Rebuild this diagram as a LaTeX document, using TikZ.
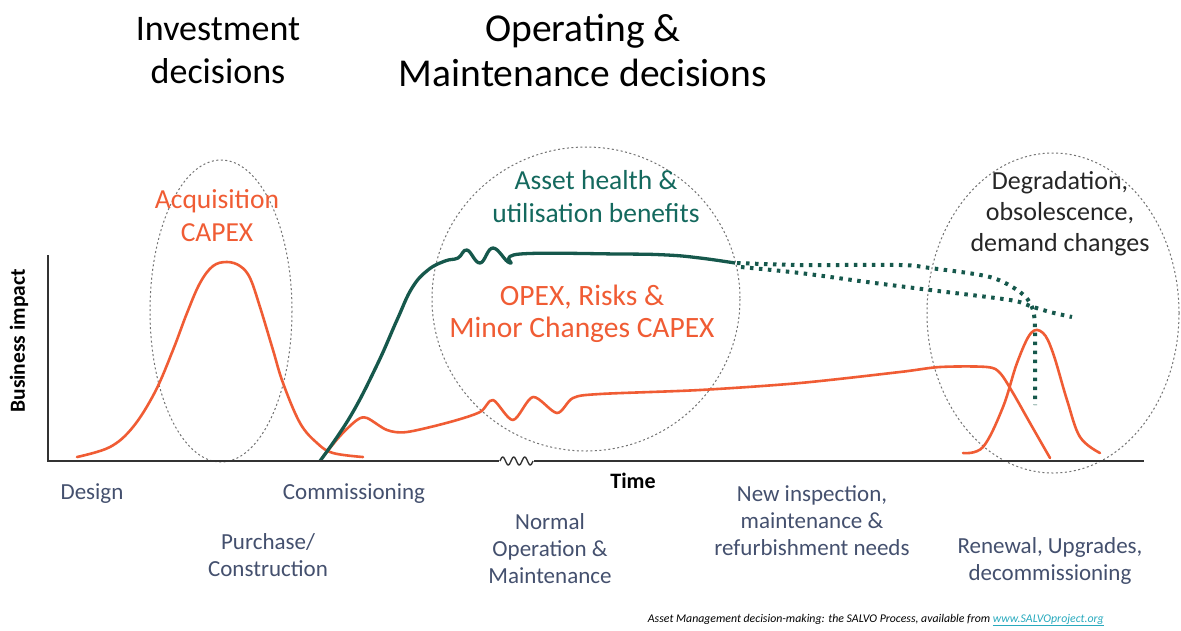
\documentclass[tikz,border=0pt]{standalone}
\usepackage{fontspec}
\setmainfont{Carlito}
\usetikzlibrary{calc}
\definecolor{salvoorange}{RGB}{240,92,52}
\definecolor{salvoteal}{RGB}{22,88,76}
\definecolor{phasegray}{RGB}{68,80,110}
\definecolor{linkteal}{RGB}{40,170,190}

\begin{document}
\begin{tikzpicture}[x=1pt,y=-1pt,
  ring/.style={black!55,dash pattern=on 2pt off 2.5pt,line width=1pt},
  impact/.style={salvoorange,line width=2.6pt,line join=round,line cap=round},
  health/.style={salvoteal,line width=3.3pt,line join=round},
  healthdots/.style={salvoteal,line width=4pt,dash pattern=on 3.5pt off 5.5pt},
  phase/.style={phasegray,font=\fontsize{23}{27}\selectfont,align=center,inner sep=0pt},
  headline/.style={font=\fontsize{36}{43}\selectfont,align=center,inner sep=0pt},
  inset/.style={font=\fontsize{29.5}{32.5}\selectfont,align=center,inner sep=0pt}]
  \useasboundingbox[fill=white] (0,0) rectangle (1181,630);
  % Decision rings
  \draw[ring] (221,311) ellipse [x radius=71,y radius=151];
  \draw[ring] (586,299) ellipse [x radius=154,y radius=152];
  \draw[ring] (1053,313) ellipse [x radius=126,y radius=160];
  % Acquisition CAPEX bell
  \draw[impact] plot[smooth,tension=0.6] coordinates {(77,457) (110,447) (133,427) (155,392)
    (173,350) (187,313) (200,283) (213,266) (227,262) (240,266) (250,278) (260,307) (273,350)
    (283,383) (300,423) (317,443) (333,453) (363,457)};
  % OPEX, risks and minor changes
  \draw[impact] plot[smooth,tension=0.5] coordinates {(322,458) (340,436) (357,420) (367,418)
    (387,430) (407,432) (450,422) (480,412) (493,400) (513,420) (533,397) (557,413) (573,398)
    (600,394) (700,390) (800,383) (900,372) (940,367) (987,367) (1000,373) (1013,393)
    (1030,423) (1050,458)};
  % Renewal bell
  \draw[impact] plot[smooth,tension=0.6] coordinates {(963,453) (983,447) (1003,407) (1017,363)
    (1031,333) (1043,333) (1053,353) (1067,400) (1080,437) (1100,453)};
  % Asset health curve
  \draw[health] plot[smooth,tension=0.7] coordinates {(320,461) (350,417) (377,365) (397,320)
    (412,288) (428,270) (445,261) (458,258) (467,250) (480,263) (493,248) (510,263)
    (520,254) (620,254) (667,255) (700,258) (735,263)};
  \draw[healthdots] plot[smooth,tension=0.5] coordinates {(737,263) (800,265) (900,265)
    (930,268) (990,277) (1020,292) (1032,307) (1035,330) (1035,405)};
  \draw[healthdots] plot[smooth,tension=0.5] coordinates {(741,267) (800,273) (867,282)
    (930,290) (1010,300) (1030,306) (1050,312) (1072,317)};
  % Axes with break
  \draw[line width=2.5pt,black!80] (48,255) -- (48,461) -- (1144,461);
  \fill[white] (499,456) rectangle (534,466);
  \draw[line width=1.4pt,black!80,domain=0:33,samples=40,variable=\t]
    plot ({500+\t},{461-4*sin(\t*360/11)});
  \node[font=\bfseries\fontsize{21.5}{24}\selectfont,rotate=90,inner sep=0pt] (impactlabel) at (19,341) {Business impact};
  \node[font=\bfseries\fontsize{22}{24}\selectfont,inner sep=0pt] (timelabel) at (633,481) {Time};
  % Headlines
  \node[headline] (investhead) at (218,51) {Investment\\decisions};
  \node[headline,font=\fontsize{39.5}{45}\selectfont] (operhead) at (583,50) {Operating \&\\Maintenance decisions};
  % Texts in the rings
  \node[inset,salvoorange,font=\fontsize{27.5}{33}\selectfont] (acqtext) at (217,216) {Acquisition\\CAPEX};
  \node[inset,salvoteal!90!cyan,font=\fontsize{27.5}{33}\selectfont] (healthtext) at (596,197) {Asset health \&\\utilisation benefits};
  \node[inset,salvoorange] (opextext) at (582,314) {OPEX, Risks \&\\Minor Changes CAPEX};
  \node[inset,black!85,font=\fontsize{26}{31}\selectfont] (degrtext) at (1060,214) {Degradation,\\obsolescence,\\demand changes};
  % Life-cycle phases
  \node[phase] (design) at (92,494) {Design};
  \node[phase] (commission) at (354,494) {Commissioning};
  \node[phase] (purchase) at (268,555) {Purchase/\\Construction};
  \node[phase] (normal) at (550,549) {Normal\\Operation \&\\Maintenance};
  \node[phase] (newneeds) at (812,521) {New inspection,\\maintenance \&\\refurbishment needs};
  \node[phase] (renewal) at (1050,561) {Renewal, Upgrades,\\decommissioning};
  % Source line
  \node[font=\itshape\fontsize{11.8}{13}\selectfont,inner sep=0pt,anchor=east] (source) at (1104,620)
    {Asset Management decision-making: the SALVO Process, available from \textcolor{linkteal}{\underline{www.SALVOproject.org}}};
\end{tikzpicture}
\end{document}
